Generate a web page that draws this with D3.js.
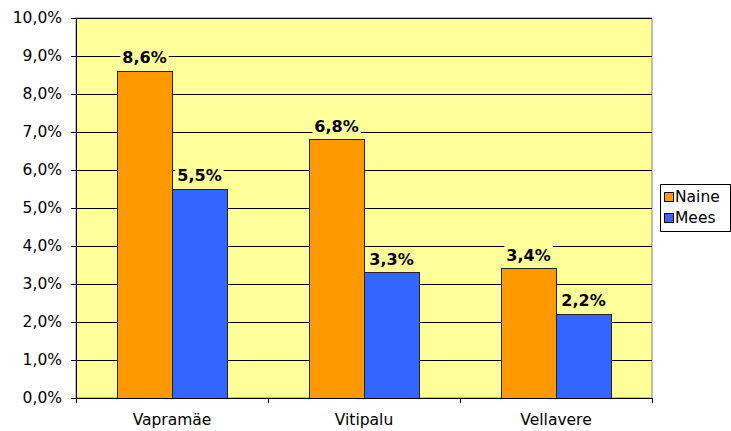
<!DOCTYPE html>
<html>
<head>
<meta charset="utf-8">
<script src="https://cdn.jsdelivr.net/npm/d3@7"></script>
<style>
body { margin: 0; background: #fff; }
svg text { font-family: Verdana, "DejaVu Sans", sans-serif; }
</style>
</head>
<body>
<div class="demo"></div>
<script>
const w = 731, h = 431;
const plotL = 76, plotR = 652, plotT = 18, plotB = 398;
const fs = '15.5px';

const categories = ['Vapramäe', 'Vitipalu', 'Vellavere'];
const series = ['Naine', 'Mees'];
const naine = [8.6, 6.8, 3.4];
const mees = [5.5, 3.3, 2.2];
const colors = ['#FF9900', '#3366FF'];
const yTicks = [0, 1, 2, 3, 4, 5, 6, 7, 8, 9, 10];

const fmt = v => v.toFixed(1).replace('.', ',') + '%';

let xScale = d3.scaleBand().domain(categories).range([plotL, plotR]);
let xInner = d3.scaleBand().domain(series).range([0, 110]);
let yScale = d3.scaleLinear().domain([0, 10]).range([plotB, plotT]);

let svg = d3.select('.demo').append('svg').attr('width', w).attr('height', h);

// plot background
svg.append('rect')
   .attr('x', plotL).attr('y', plotT)
   .attr('width', plotR - plotL).attr('height', plotB - plotT)
   .attr('fill', '#FFFF99').attr('stroke', '#808080');

// grid
let yGrid = d3.axisRight(yScale).tickValues(yTicks).tickFormat('').tickSize(plotR - plotL);
svg.append('g').attr('transform', 'translate(' + plotL + ',0)').call(yGrid)
   .call(g => g.select('.domain').remove())
   .selectAll('line').attr('stroke', '#000').attr('shape-rendering', 'crispEdges');

let data = [];
categories.forEach((c, i) => {
    data.push({ cat: c, s: 'Naine', v: naine[i] });
    data.push({ cat: c, s: 'Mees', v: mees[i] });
});

const offset = (xScale.bandwidth() - 110) / 2;
const barX = d => xScale(d.cat) + offset + xInner(d.s);

// value labels with background (drawn under bars so they never cover a bar)
let labels = svg.selectAll('g.lbl').data(data).enter().append('g').attr('class', 'lbl');
let bg = labels.append('rect').attr('fill', '#FFFF99');
labels.append('text')
    .text(d => fmt(d.v))
    .attr('x', d => barX(d) + xInner.bandwidth() / 2)
    .attr('y', d => yScale(d.v) - 8)
    .attr('text-anchor', 'middle')
    .attr('font-size', '16px').attr('font-weight', 'bold');
labels.each(function() {
    let b = d3.select(this).select('text').node().getBBox();
    d3.select(this).select('rect')
      .attr('x', b.x - 2).attr('y', b.y).attr('width', b.width + 4).attr('height', b.height);
});

svg.selectAll('rect.bar').data(data).enter()
    .append('rect')
    .attr('class', 'bar')
    .attr('x', barX)
    .attr('y', d => yScale(d.v))
    .attr('width', xInner.bandwidth())
    .attr('height', d => plotB - yScale(d.v))
    .attr('fill', d => colors[series.indexOf(d.s)])
    .attr('stroke', '#222').attr('stroke-width', 1)
    .attr('shape-rendering', 'crispEdges');

// axes
let yAxis = d3.axisLeft(yScale).tickValues(yTicks).tickFormat(fmt).tickSize(5).tickSizeOuter(0);
svg.append('g').attr('transform', 'translate(' + plotL + ',0)').call(yAxis)
   .call(g => g.selectAll('text').attr('font-size', fs).attr('fill', '#000').attr('dx', '-6px')
                .attr('font-family', 'Verdana, "DejaVu Sans", sans-serif'))
   .call(g => g.selectAll('line, path').attr('stroke', '#000').attr('shape-rendering', 'crispEdges'));

let xAxis = d3.axisBottom(xScale).tickSize(0).tickSizeOuter(0);
svg.append('g').attr('transform', 'translate(0,' + plotB + ')').call(xAxis)
   .call(g => g.selectAll('text').attr('font-size', fs).attr('fill', '#000').attr('y', 27).attr('dy', 0)
                .attr('font-family', 'Verdana, "DejaVu Sans", sans-serif'))
   .call(g => g.select('.domain').attr('stroke', '#000').attr('shape-rendering', 'crispEdges'));

// category boundary ticks
let bounds = categories.map(c => xScale(c)).concat([plotR]);
svg.selectAll('line.ct').data(bounds).enter().append('line')
   .attr('x1', d => d).attr('x2', d => d)
   .attr('y1', plotB).attr('y2', plotB + 5)
   .attr('stroke', '#000').attr('shape-rendering', 'crispEdges');

// legend
let lg = svg.append('g').attr('transform', 'translate(660,184)');
lg.append('rect').attr('width', 70).attr('height', 47).attr('fill', '#fff').attr('stroke', '#000')
  .attr('shape-rendering', 'crispEdges');
series.forEach((s, i) => {
    lg.append('rect').attr('x', 4).attr('y', 8 + i * 21).attr('width', 9).attr('height', 9)
      .attr('fill', colors[i]).attr('stroke', '#000').attr('shape-rendering', 'crispEdges');
    lg.append('text').text(s).attr('x', 15).attr('y', 18 + i * 21).attr('font-size', fs);
});
</script>
</body>
</html>
